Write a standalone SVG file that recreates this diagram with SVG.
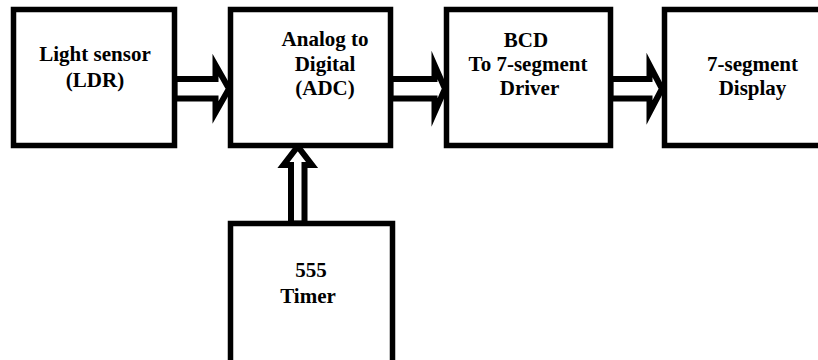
<svg xmlns="http://www.w3.org/2000/svg" width="818" height="360" viewBox="0 0 818 360">
  <style>
    .box { fill: #ffffff; stroke: #000000; stroke-width: 5.5; }
    .arrow { fill: #ffffff; stroke: #000000; stroke-width: 6; stroke-linejoin: miter; stroke-miterlimit: 10; }
    .label { font-family: "Liberation Serif", "Times New Roman", serif; font-weight: bold; font-size: 21px; fill: #000000; text-anchor: middle; }
  </style>
  <rect width="818" height="360" fill="#ffffff"/>

  <!-- hollow block arrows between the stages -->
  <g id="connectors">
    <polygon class="arrow" points="174.5,79 215.5,79 215.5,65 229,88.75 215.5,112.5 215.5,98.5 174.5,98.5"/>
    <polygon class="arrow" points="390.5,79 434.5,79 434.5,65 445,88.75 434.5,112.5 434.5,98.5 390.5,98.5"/>
    <polygon class="arrow" points="610.5,79 649.5,79 649.5,65 662,88.75 649.5,112.5 649.5,98.5 610.5,98.5"/>
    <polygon class="arrow" points="291,223.5 291,165 283.5,165 297.75,146.5 312,165 304.5,165 304.5,223.5"/>
  </g>

  <g id="ldr">
    <rect class="box" x="13.5" y="9.5" width="161" height="136"/>
    <text class="label" x="95" y="61">Light sensor</text>
    <text class="label" x="95" y="87">(LDR)</text>
  </g>

  <g id="adc">
    <rect class="box" x="230.5" y="9.5" width="160" height="136"/>
    <text class="label" x="325" y="46">Analog to</text>
    <text class="label" x="325" y="70.5">Digital</text>
    <text class="label" x="325" y="95">(ADC)</text>
  </g>

  <g id="driver">
    <rect class="box" x="446.5" y="9.5" width="164" height="136"/>
    <text class="label" x="526" y="46.5">BCD</text>
    <text class="label" x="528" y="70.5">To 7-segment</text>
    <text class="label" x="529.5" y="95">Driver</text>
  </g>

  <g id="display">
    <rect class="box" x="664.5" y="9.5" width="170" height="136"/>
    <text class="label" x="752.5" y="70.5">7-segment</text>
    <text class="label" x="752.5" y="95">Display</text>
  </g>

  <g id="timer">
    <rect class="box" x="230.5" y="223.5" width="162" height="150"/>
    <text class="label" x="311" y="277">555</text>
    <text class="label" x="308" y="303">Timer</text>
  </g>
</svg>
